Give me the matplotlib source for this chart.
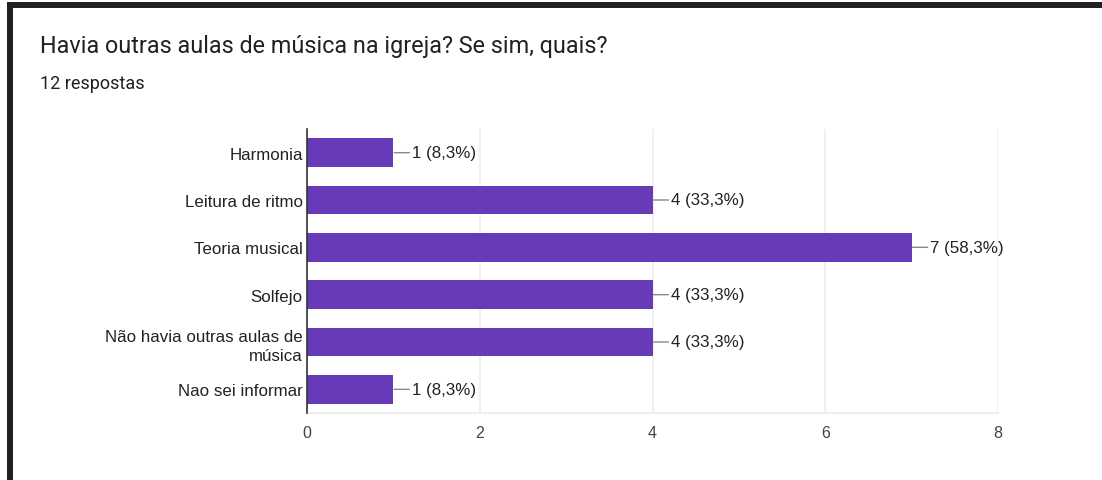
import matplotlib

matplotlib.use("Agg")
import matplotlib.pyplot as plt
from matplotlib.patches import Rectangle


# =========================
# Datos
# =========================
categories = [
    "Harmonia",
    "Leitura de ritmo",
    "Teoria musical",
    "Solfejo",
    "Não havia outras aulas de\nmúsica",
    "Nao sei informar",
]
counts = [1, 4, 7, 4, 4, 1]
value_labels = ["1 (8,3%)", "4 (33,3%)", "7 (58,3%)", "4 (33,3%)", "4 (33,3%)", "1 (8,3%)"]
x_ticks = [0, 2, 4, 6, 8]

TITLE = "Havia outras aulas de música na igreja? Se sim, quais?"
SUBTITLE = "12 respostas"

BAR_COLOR = "#673ab7"
W, H = 1102, 481


def main() -> None:
    fig = plt.figure(figsize=(W / 100, H / 100), dpi=100)
    fig.patch.set_facecolor("white")

    # Borde oscuro (captura de pantalla)
    fig.patches.append(Rectangle((7 / W, 0), 6 / W, 1 - 3 / H, transform=fig.transFigure,
                                 facecolor="#202124", edgecolor="none"))
    fig.patches.append(Rectangle((7 / W, 1 - 9 / H), 1 - 7 / W, 6 / H, transform=fig.transFigure,
                                 facecolor="#202124", edgecolor="none"))

    fig.text(40 / W, 1 - 47 / H, TITLE, fontsize=16.8, family="Roboto",
             color="#202124", va="center", ha="left")
    fig.text(40 / W, 1 - 84 / H, SUBTITLE, fontsize=13, family="Roboto",
             color="#202124", va="center", ha="left")

    ax = fig.add_axes([307 / W, 1 - 414 / H, (998 - 307) / W, (414 - 130) / H])
    ypos = list(range(len(categories)))
    ax.barh(ypos, counts, height=0.61, color=BAR_COLOR, zorder=3)

    for y, v, lab in zip(ypos, counts, value_labels):
        ax.annotate(
            lab,
            xy=(v, y),
            xytext=(13.5, 0),
            textcoords="offset points",
            ha="left",
            va="center",
            fontsize=12.2,
            family="Liberation Sans",
            color="#222222",
            arrowprops=dict(arrowstyle="-", color="#888888", lw=1, shrinkA=0, shrinkB=0.5),
            zorder=4,
        )

    ax.set_xlim(0, 8)
    ax.set_ylim(len(categories) - 0.5, -0.5)
    ax.set_xticks(x_ticks)
    ax.set_xticklabels([str(t) for t in x_ticks], family="Liberation Sans", fontsize=11.5, color="#444444")
    ax.set_yticks(ypos)
    ax.set_yticklabels(categories, family="Liberation Sans", fontsize=12.2, color="#222222",
                       linespacing=1.35)
    ax.tick_params(axis="both", length=0)
    ax.tick_params(axis="x", pad=9)
    ax.tick_params(axis="y", pad=3)

    ax.grid(axis="x", color="#eeeeee", lw=1.2, zorder=0)
    for side in ["top", "right"]:
        ax.spines[side].set_visible(False)
    ax.spines["bottom"].set_color("#eeeeee")
    ax.spines["bottom"].set_linewidth(1.5)
    ax.spines["left"].set_color("#333333")
    ax.spines["left"].set_linewidth(1.2)
    ax.spines["left"].set_zorder(5)

    fig.savefig("out.png", dpi=100)
    plt.close(fig)


if __name__ == "__main__":
    main()
